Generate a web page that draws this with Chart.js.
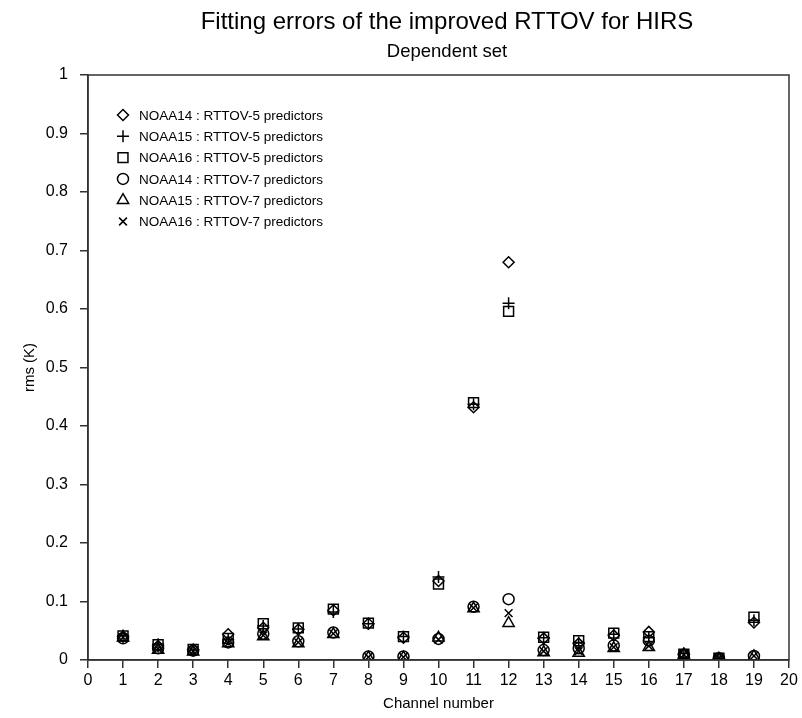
<!DOCTYPE html>
<html lang="en">
<head>
    <meta charset="UTF-8">
    <script src="https://cdn.jsdelivr.net/npm/chart.js"></script>
    <title>Fitting errors of the improved RTTOV for HIRS</title>
    <style>
        body { margin: 0; background: #fff; }
    </style>
</head>
<body>
<canvas id="rmsChart" width="802" height="718"></canvas>

<script>
    // channel numbers and rms (K)
    const channels = [1, 2, 3, 4, 5, 6, 7, 8, 9, 10, 11, 12, 13, 14, 15, 16, 17, 18, 19];
    const noaa14r5 = [0.040, 0.024, 0.018, 0.044, 0.055, 0.052, 0.085, 0.062, 0.038, 0.135, 0.432, 0.680, 0.037, 0.028, 0.042, 0.048, 0.010, 0.003, 0.064];
    const noaa15r5 = [0.042, 0.027, 0.017, 0.035, 0.058, 0.053, 0.082, 0.062, 0.040, 0.142, 0.437, 0.610, 0.038, 0.030, 0.044, 0.038, 0.011, 0.003, 0.068];
    const noaa16r5 = [0.041, 0.026, 0.018, 0.037, 0.062, 0.055, 0.087, 0.063, 0.040, 0.130, 0.440, 0.596, 0.039, 0.033, 0.046, 0.040, 0.010, 0.003, 0.073];
    const noaa14r7 = [0.037, 0.020, 0.016, 0.030, 0.045, 0.032, 0.047, 0.006, 0.006, 0.036, 0.091, 0.104, 0.017, 0.020, 0.025, 0.033, 0.009, 0.003, 0.007];
    const noaa15r7 = [0.038, 0.017, 0.014, 0.028, 0.040, 0.028, 0.044, 0.004, 0.004, 0.038, 0.088, 0.063, 0.013, 0.012, 0.020, 0.022, 0.009, 0.002, 0.006];
    const noaa16r7 = [0.039, 0.019, 0.015, 0.029, 0.042, 0.030, 0.045, 0.005, 0.005, 0.035, 0.089, 0.080, 0.015, 0.015, 0.022, 0.024, 0.009, 0.003, 0.007];

    const seriesLabels = [
        'NOAA14 : RTTOV-5 predictors',
        'NOAA15 : RTTOV-5 predictors',
        'NOAA16 : RTTOV-5 predictors',
        'NOAA14 : RTTOV-7 predictors',
        'NOAA15 : RTTOV-7 predictors',
        'NOAA16 : RTTOV-7 predictors'
    ];
    const xTickLabels = ['0', '1', '2', '3', '4', '5', '6', '7', '8', '9', '10', '11', '12', '13', '14', '15', '16', '17', '18', '19', '20'];
    const yTickLabels = ['0', '0.1', '0.2', '0.3', '0.4', '0.5', '0.6', '0.7', '0.8', '0.9', '1'];
    const titleText = 'Fitting errors of the improved RTTOV for HIRS';
    const subtitleText = 'Dependent set';

    const FONT = '"Liberation Sans", Arial, Helvetica, sans-serif';
    const INK = '#000';
    const AXIS = '#333';

    function points(values) {
        return channels.map((c, i) => ({x: c, y: values[i]}));
    }

    function series(label, values, style, radius) {
        return {
            label: label,
            data: points(values),
            pointStyle: style,
            pointRadius: radius,
            pointHoverRadius: radius,
            pointBorderWidth: 1.5,
            borderColor: INK,
            backgroundColor: 'rgba(0,0,0,0)',
            showLine: false
        };
    }

    // title block is centred a little right of the canvas middle in the original
    const titles = {
        id: 'titles',
        afterDraw(chart) {
            const ctx = chart.ctx;
            ctx.save();
            ctx.fillStyle = INK;
            ctx.textAlign = 'center';
            ctx.textBaseline = 'middle';
            ctx.font = '24px ' + FONT;
            ctx.fillText(titleText, 447, 22);
            ctx.font = '18.5px ' + FONT;
            ctx.fillText(subtitleText, 447, 52);
            ctx.restore();
        }
    };

    // legend drawn inside the plot, top-left, like the original
    const insideLegend = {
        id: 'insideLegend',
        afterDraw(chart) {
            const ctx = chart.ctx;
            const x0 = chart.chartArea.left + 35;
            const y0 = chart.chartArea.top + 40;
            const step = 21.3;
            ctx.save();
            ctx.font = '13.5px ' + FONT;
            ctx.textBaseline = 'middle';
            ctx.textAlign = 'left';
            chart.data.datasets.forEach((ds, i) => {
                const y = y0 + i * step;
                ctx.strokeStyle = INK;
                ctx.fillStyle = 'rgba(0,0,0,0)';
                ctx.lineWidth = 1.5;
                Chart.helpers.drawPoint(ctx, {
                    pointStyle: ds.pointStyle,
                    radius: ds.pointRadius,
                    rotation: 0,
                    borderWidth: 1.5
                }, x0, y);
                ctx.fillStyle = INK;
                ctx.fillText(ds.label, x0 + 16, y + 1);
            });
            ctx.restore();
        }
    };

    // box round the plot area
    const frame = {
        id: 'frame',
        afterDraw(chart) {
            const {left, top, right, bottom} = chart.chartArea;
            const ctx = chart.ctx;
            ctx.save();
            ctx.strokeStyle = AXIS;
            ctx.lineWidth = 1.5;
            ctx.strokeRect(left, top, right - left, bottom - top);
            ctx.restore();
        }
    };

    const ctx = document.getElementById('rmsChart').getContext('2d');
    const rmsChart = new Chart(ctx, {
        type: 'scatter',
        data: {
            datasets: [
                series(seriesLabels[0], noaa14r5, 'rectRot', 5.5),
                series(seriesLabels[1], noaa15r5, 'cross', 6),
                series(seriesLabels[2], noaa16r5, 'rect', 7),
                series(seriesLabels[3], noaa14r7, 'circle', 5.5),
                series(seriesLabels[4], noaa15r7, 'triangle', 6.5),
                series(seriesLabels[5], noaa16r7, 'crossRot', 5.5)
            ]
        },
        options: {
            responsive: false,
            animation: false,
            events: [],
            layout: {padding: {left: 0, right: 13, top: 75, bottom: 0}},
            plugins: {
                legend: {display: false},
                tooltip: {enabled: false},
                title: {display: false},
                subtitle: {display: false}
            },
            scales: {
                x: {
                    type: 'linear',
                    min: 0,
                    max: 20,
                    afterFit(scale) { scale.height = 58; },
                    afterBuildTicks(scale) {
                        scale.ticks = xTickLabels.map(t => ({value: Number(t)}));
                    },
                    ticks: {
                        color: INK,
                        font: {family: FONT, size: 16},
                        padding: 3,
                        maxRotation: 0,
                        autoSkip: false,
                        callback: (v, i) => xTickLabels[i]
                    },
                    grid: {drawOnChartArea: false, drawTicks: true, tickLength: 8, color: AXIS, lineWidth: 1.5},
                    border: {display: true, color: AXIS, width: 1.5},
                    title: {
                        display: true,
                        text: 'Channel number',
                        color: INK,
                        font: {family: FONT, size: 15},
                        padding: {top: 0, bottom: 5}
                    }
                },
                y: {
                    type: 'linear',
                    min: 0,
                    max: 1,
                    afterFit(scale) { scale.width = 88; },
                    afterBuildTicks(scale) {
                        scale.ticks = yTickLabels.map(t => ({value: Number(t)}));
                    },
                    ticks: {
                        color: INK,
                        font: {family: FONT, size: 16},
                        padding: 12,
                        autoSkip: false,
                        callback: (v, i) => yTickLabels[i]
                    },
                    grid: {drawOnChartArea: false, drawTicks: true, tickLength: 8, color: AXIS, lineWidth: 1.5},
                    border: {display: true, color: AXIS, width: 1.5},
                    title: {
                        display: true,
                        text: 'rms (K)',
                        color: INK,
                        font: {family: FONT, size: 15},
                        padding: {top: 21, bottom: 0}
                    }
                }
            }
        },
        plugins: [titles, insideLegend, frame]
    });
</script>
</body>
</html>
